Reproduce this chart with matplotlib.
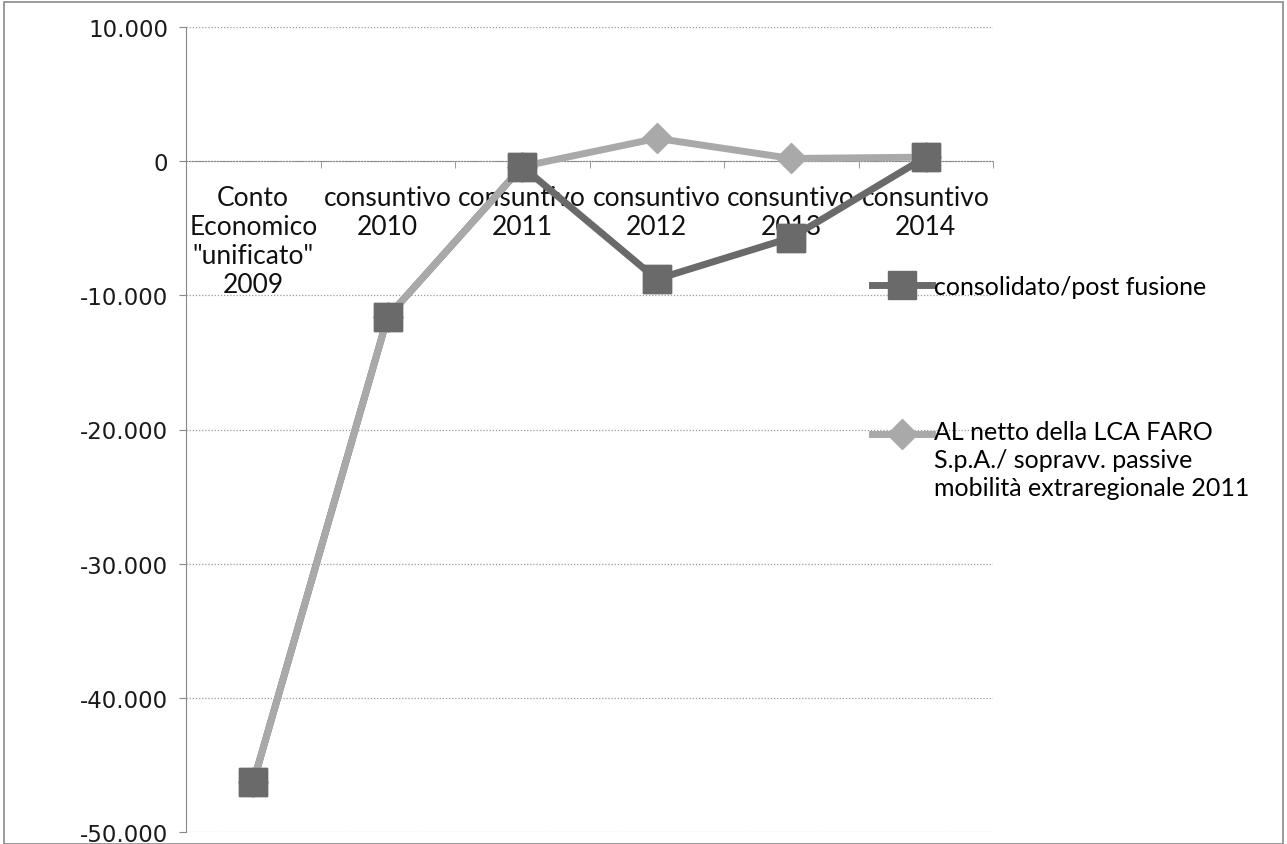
import matplotlib.pyplot as plt
from matplotlib.patches import Rectangle
from matplotlib.ticker import FuncFormatter, FixedLocator
from matplotlib.legend_handler import HandlerLine2D

plt.rcParams['font.family'] = ['Lato', 'DejaVu Sans']

categorie = ['Conto\nEconomico\n"unificato"\n2009', 'consuntivo\n2010', 'consuntivo\n2011',
             'consuntivo\n2012', 'consuntivo\n2013', 'consuntivo\n2014']
consolidato = [-46300, -11600, -400, -8800, -5700, 300]
al_netto = [-46300, -11600, -400, 1700, 200, 300]
lbl_consolidato = 'consolidato/post fusione'
lbl_al_netto = 'AL netto della LCA FARO\nS.p.A./ sopravv. passive\nmobilità extraregionale 2011'

scuro = '#6a6a6a'
chiaro = '#a9a9a9'


class HandlerPrimaRiga(HandlerLine2D):
    # marcatore allineato alla prima riga dell'etichetta (come in Excel)
    def __init__(self, alza=0, **kw):
        super().__init__(**kw)
        self.alza = alza

    def create_artists(self, legend, orig_handle, xdescent, ydescent, width, height, fontsize, trans):
        return super().create_artists(legend, orig_handle, xdescent, ydescent - 2 * self.alza,
                                      width, height, fontsize, trans)


fig = plt.figure(figsize=(12.87, 8.45), dpi=100)
ax = fig.add_axes([186 / 1287, 12 / 845, 807 / 1287, 805 / 845])

x = range(len(categorie))
l1, = ax.plot(x, consolidato, color=scuro, lw=5, marker='s', ms=20,
              mfc=scuro, mec=scuro, zorder=3, label=lbl_consolidato)
l2, = ax.plot(x, al_netto, color=chiaro, lw=5, marker='D', ms=15,
              mfc=chiaro, mec=chiaro, zorder=4, label=lbl_al_netto)
# quadrati sopra le linee
ax.plot(x, consolidato, ls='none', marker='s', ms=20, mfc=scuro, mec=scuro, zorder=5)

ax.set_xlim(-0.5, len(categorie) - 0.5)
ax.set_ylim(-50000, 10000)
ax.set_yticks(range(-50000, 10001, 10000))
ax.yaxis.set_major_formatter(FuncFormatter(lambda v, p: f'{int(v):,}'.replace(',', '.')))
ax.tick_params(axis='y', length=5, color='#888888', labelcolor='#1a1a1a', pad=8,
               labelsize=16.5, labelfontfamily='DejaVu Sans')

ax.set_xticks(list(x))
ax.set_xticklabels(categorie)
ax.xaxis.set_minor_locator(FixedLocator([i + 0.5 for i in range(-1, len(categorie))]))
ax.tick_params(axis='x', which='major', length=0, pad=17, labelsize=19, labelcolor='#111111')
ax.tick_params(axis='x', which='minor', length=5, color='#888888')
for t in ax.get_xticklabels():
    t.set_linespacing(1.55)

ax.grid(axis='y', ls=(0, (1, 1.5)), color='#9a9a9a', lw=0.9)
ax.spines['bottom'].set_position(('data', 0))
ax.spines['bottom'].set_linestyle((0, (1, 1.5)))
ax.spines['bottom'].set_color('#888888')
ax.spines['left'].set_color('#888888')
ax.spines['left'].set_linestyle((0, (2, 1)))
ax.spines['top'].set_visible(False)
ax.spines['right'].set_visible(False)
ax.set_axisbelow(True)

leg = fig.legend(handles=[l1, l2], loc='upper left', bbox_to_anchor=(862 / 1287, 1 - 266 / 845),
                 frameon=False, fontsize=18, labelspacing=4.9, handlelength=2.4,
                 handletextpad=0.1, borderaxespad=0,
                 handler_map={l2: HandlerPrimaRiga(alza=19)})
for t in leg.get_texts():
    t.set_linespacing(1.25)

fig.patches.append(Rectangle((0.003, 0.0), 0.994, 0.996, transform=fig.transFigure,
                             fill=False, ec='#8a8a8a', lw=1.2))

fig.savefig('out.png', dpi=100)
